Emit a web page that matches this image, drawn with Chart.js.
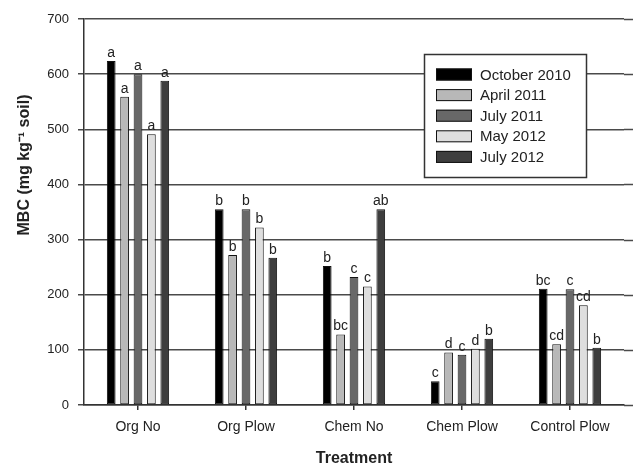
<!DOCTYPE html>
<html>
<head>
<meta charset="utf-8">
<script src="https://cdn.jsdelivr.net/npm/chart.js@4/dist/chart.umd.min.js"></script>
<style>
html,body{margin:0;padding:0;background:#fff;}
#wrap{width:633px;height:468px;position:relative;}
</style>
</head>
<body>
<div id="wrap"><canvas id="c" width="633" height="468"></canvas></div>
<script>
const categories = ['Org No', 'Org Plow', 'Chem No', 'Chem Plow', 'Control Plow'];
const seriesNames = ['October 2010', 'April 2011', 'July 2011', 'May 2012', 'July 2012'];
const seriesColors = ['#000000', '#b8b8b8', '#686868', '#dedede', '#3e3e3e'];

const oct2010 = [624, 355, 252, 43, 211];
const apr2011 = [559, 272, 128, 95, 110];
const jul2011 = [600, 355, 232, 91, 210];
const may2012 = [491, 322, 215, 102, 181];
const jul2012 = [588, 267, 355, 120, 104];

const lettersOct2010 = ['a', 'b', 'b', 'c', 'bc'];
const lettersApr2011 = ['a', 'b', 'bc', 'd', 'cd'];
const lettersJul2011 = ['a', 'b', 'c', 'c', 'c'];
const lettersMay2012 = ['a', 'b', 'c', 'd', 'cd'];
const lettersJul2012 = ['a', 'b', 'ab', 'b', 'b'];

const yTicks = [0, 100, 200, 300, 400, 500, 600, 700];
const yTitle = 'MBC (mg kg\u207B\u00B9 soil)';
const xTitle = 'Treatment';

const seriesValues = [oct2010, apr2011, jul2011, may2012, jul2012];
const seriesLetters = [lettersOct2010, lettersApr2011, lettersJul2011, lettersMay2012, lettersJul2012];

const FONT = "'Liberation Sans', Arial, sans-serif";

const datasets = seriesNames.map((name, i) => ({
  label: name,
  data: seriesValues[i],
  backgroundColor: seriesColors[i],
  borderColor: '#111',
  borderWidth: 1,
  borderSkipped: false,
  categoryPercentage: 0.62,
  barPercentage: 0.65,
  letters: seriesLetters[i]
}));

const extendGrid = {
  id: 'extendGrid',
  beforeDatasetsDraw(chart) {
    const ctx = chart.ctx, y = chart.scales.y, a = chart.chartArea;
    ctx.save();
    ctx.strokeStyle = '#4a4a4a';
    ctx.lineWidth = 1.5;
    yTicks.forEach(v => {
      const py = Math.round(y.getPixelForValue(v)) + 0.5;
      ctx.beginPath();
      ctx.moveTo(a.right, py);
      ctx.lineTo(chart.width, py);
      ctx.stroke();
    });
    ctx.restore();
  }
};

const letterLabels = {
  id: 'letterLabels',
  afterDatasetsDraw(chart) {
    const ctx = chart.ctx;
    ctx.save();
    ctx.font = '14px ' + FONT;
    ctx.fillStyle = '#222';
    ctx.textAlign = 'center';
    ctx.textBaseline = 'bottom';
    chart.data.datasets.forEach((ds, di) => {
      const meta = chart.getDatasetMeta(di);
      meta.data.forEach((bar, i) => {
        ctx.fillText(ds.letters[i], bar.x, bar.y - 1);
      });
    });
    ctx.restore();
  }
};

const boxLegend = {
  id: 'boxLegend',
  afterDatasetsDraw(chart) {
    const ctx = chart.ctx;
    const bx = 424, by = 54, bw = 162, bh = 123;
    ctx.save();
    ctx.fillStyle = '#fff';
    ctx.fillRect(bx, by, bw, bh);
    ctx.strokeStyle = '#333';
    ctx.lineWidth = 1.5;
    ctx.strokeRect(bx + 0.5, by + 0.5, bw, bh);
    ctx.font = '15px ' + FONT;
    ctx.textBaseline = 'middle';
    ctx.textAlign = 'left';
    chart.data.datasets.forEach((ds, i) => {
      const cy = 74.5 + i * 20.6;
      ctx.fillStyle = ds.backgroundColor;
      ctx.fillRect(436, cy - 6, 36, 12);
      ctx.strokeStyle = '#111';
      ctx.lineWidth = 1;
      ctx.strokeRect(436.5, cy - 5.5, 35, 11);
      ctx.fillStyle = '#222';
      ctx.fillText(ds.label, 480, cy + 1);
    });
    ctx.restore();
  }
};

const yTitlePlugin = {
  id: 'yTitlePlugin',
  afterDraw(chart) {
    const ctx = chart.ctx;
    ctx.save();
    ctx.translate(25, 165);
    ctx.rotate(-Math.PI / 2);
    ctx.font = 'bold 16px ' + FONT;
    ctx.fillStyle = '#222';
    ctx.textAlign = 'center';
    ctx.textBaseline = 'middle';
    ctx.fillText(yTitle, 0, 0);
    ctx.restore();
  }
};

new Chart(document.getElementById('c'), {
  type: 'bar',
  data: { labels: categories, datasets },
  options: {
    responsive: false,
    animation: false,
    devicePixelRatio: 1,
    layout: { padding: { left: 0, right: 9, top: 19, bottom: 0 } },
    plugins: {
      legend: { display: false },
      tooltip: { enabled: false }
    },
    scales: {
      x: {
        grid: { display: true, drawOnChartArea: false, offset: false, tickLength: 5, color: '#333', lineWidth: 1.5 },
        border: { display: true, color: '#333', width: 1.5 },
        ticks: { font: { size: 14, family: FONT }, color: '#222', padding: 9, maxRotation: 0 },
        title: { display: true, text: xTitle, font: { size: 16, weight: 'bold', family: FONT }, color: '#222', padding: { top: 0, bottom: 0 } },
        afterFit(scale) { scale.height = 63; }
      },
      y: {
        min: 0,
        max: 700,
        afterBuildTicks(scale) { scale.ticks = yTicks.map(v => ({ value: v })); },
        grid: { color: '#4a4a4a', lineWidth: 1.5, tickLength: 6 },
        border: { display: true, color: '#333', width: 1.5 },
        ticks: { font: { size: 13, family: FONT }, color: '#222', padding: 9 },
        title: { display: false },
        afterFit(scale) { scale.width = 84; }
      }
    }
  },
  plugins: [extendGrid, letterLabels, boxLegend, yTitlePlugin]
});
</script>
</body>
</html>
